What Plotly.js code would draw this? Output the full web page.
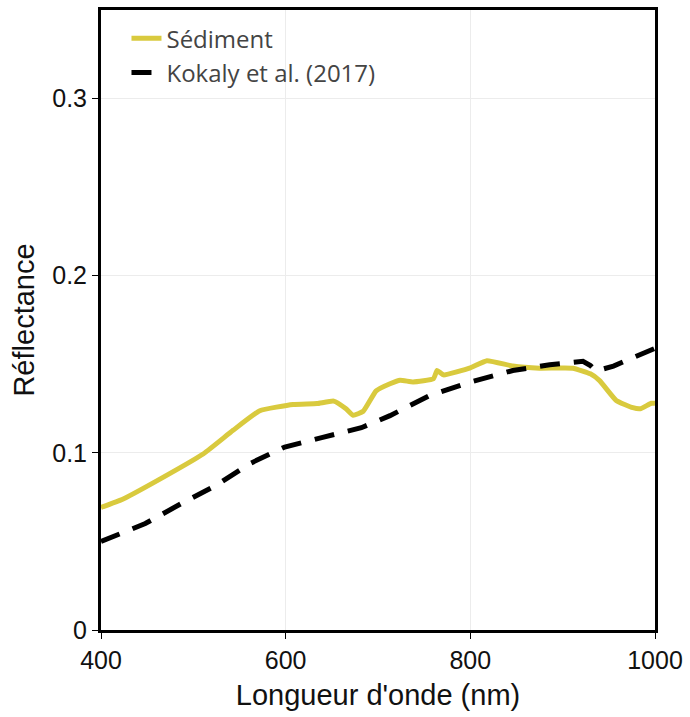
<!DOCTYPE html>
<html>
<head>
<meta charset="utf-8">
<script src="https://cdn.plot.ly/plotly-3.0.1.min.js"></script>
<style>
  html, body { margin: 0; padding: 0; background: #fff; }
  #chart { width: 690px; height: 717px; }
</style>
</head>
<body>
<div id="chart"></div>
<script>
// Sediment reflectance spectrum (field measurement)
const sedWavelength = [400, 424, 471, 511, 543, 572, 608, 634, 652, 665, 673, 684, 698, 713, 724, 738, 760, 764, 771, 800, 818, 846, 875, 911, 930, 940, 958, 976, 984, 996, 1000];
const sedReflectance = [0.0692, 0.0740, 0.0873, 0.0995, 0.1127, 0.1238, 0.1273, 0.1278, 0.1292, 0.125, 0.1212, 0.1235, 0.135, 0.139, 0.141, 0.140, 0.1418, 0.1465, 0.144, 0.148, 0.152, 0.149, 0.1478, 0.1478, 0.1446, 0.1408, 0.1296, 0.1255, 0.1249, 0.128, 0.128];

// Reference library spectrum (Kokaly et al., 2017)
const refWavelength = [400, 448, 487, 525, 561, 599, 639, 682, 713, 756, 800, 846, 886, 922, 930, 936, 955, 995, 1000];
const refReflectance = [0.0500, 0.0601, 0.0714, 0.0817, 0.0939, 0.1033, 0.1086, 0.1142, 0.121, 0.1324, 0.140, 0.1465, 0.1497, 0.1517, 0.1493, 0.1462, 0.149, 0.1577, 0.159];

const seriesNames = ['Sédiment', 'Kokaly et al. (2017)'];
const xTicks = [400, 600, 800, 1000];
const yTicks = [0, 0.1, 0.2, 0.3];
const yTickText = ['0', '0.1', '0.2', '0.3'];

const traces = [
  {
    x: sedWavelength, y: sedReflectance, name: seriesNames[0],
    type: 'scatter', mode: 'lines',
    line: { color: '#d9ca3e', width: 5, shape: 'spline', smoothing: 0.4 }
  },
  {
    x: refWavelength, y: refReflectance, name: seriesNames[1],
    type: 'scatter', mode: 'lines',
    line: { color: '#000000', width: 5, dash: '20px,14px' }
  }
];

const layout = {
  width: 690, height: 717,
  margin: { l: 101, r: 35, t: 10, b: 87 },
  paper_bgcolor: '#ffffff', plot_bgcolor: '#ffffff',
  font: { family: 'Liberation Sans, Arial, sans-serif', color: '#000' },
  showlegend: true,
  legend: {
    x: 0.046, y: 0.99, xanchor: 'left', yanchor: 'top',
    bgcolor: 'rgba(0,0,0,0)',
    font: { family: 'Open Sans, sans-serif', size: 24, color: '#444' },
    tracegroupgap: 0
  },
  xaxis: {
    range: [400, 1000], tickvals: xTicks,
    showline: true, linecolor: '#000', linewidth: 3, mirror: true,
    ticks: 'outside', ticklen: 6, tickcolor: '#000', tickwidth: 1,
    showgrid: true, gridcolor: '#ececec', gridwidth: 1,
    zeroline: false,
    tickfont: { size: 25, color: '#111' },
    title: { text: "Longueur d'onde (nm)", font: { size: 29, color: '#111' }, standoff: 12 }
  },
  yaxis: {
    range: [0, 0.35], tickvals: yTicks, ticktext: yTickText,
    showline: true, linecolor: '#000', linewidth: 3, mirror: true,
    ticks: 'outside', ticklen: 6, tickcolor: '#000', tickwidth: 1,
    showgrid: true, gridcolor: '#ececec', gridwidth: 1,
    zeroline: false,
    tickfont: { size: 25, color: '#111' },
    title: { text: 'Réflectance', font: { size: 29, color: '#111' }, standoff: 10 }
  }
};

Plotly.newPlot('chart', traces, layout, { displayModeBar: false, staticPlot: true });
</script>
</body>
</html>
